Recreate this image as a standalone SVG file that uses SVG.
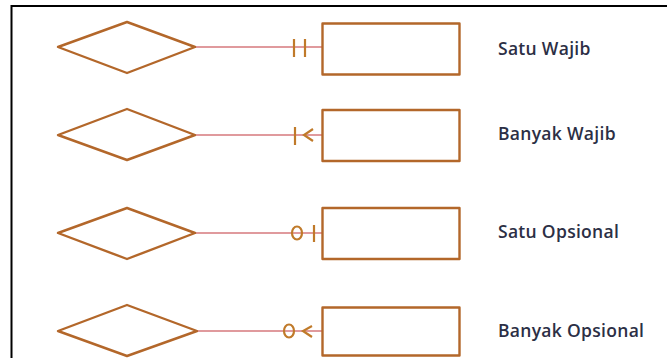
<svg xmlns="http://www.w3.org/2000/svg" width="667" height="358" viewBox="0 0 667 358">
  <style>
    .shape { fill: #ffffff; stroke: #b3672a; stroke-width: 2.4; stroke-linejoin: round; }
    .link { stroke: #d6787c; stroke-width: 1.6; fill: none; }
    .mark { stroke: #c07a2a; stroke-width: 2.2; fill: none; }
    .label { font-family: "Open Sans", "Liberation Sans", sans-serif; font-size: 17.5px; font-weight: 600; letter-spacing: 0.3px; fill: #2c2f45; }
    .frame { stroke: #000000; stroke-width: 2; fill: none; }
  </style>
  <rect width="667" height="358" fill="#ffffff"/>
  <path class="frame" d="M11.5 358 V6 H667"/>

  <g id="connectors">
    <!-- one and only one -->
    <line class="link" x1="195" y1="47" x2="322" y2="47"/>
    <line class="mark" x1="294" y1="39" x2="294" y2="57"/>
    <line class="mark" x1="305" y1="39" x2="305" y2="57"/>
    <!-- one or many -->
    <line class="link" x1="195" y1="135" x2="322" y2="135"/>
    <line class="mark" x1="295" y1="127" x2="295" y2="145"/>
    <path class="mark" d="M313 129 L304 135 L313 141"/>
    <!-- zero or one -->
    <line class="link" x1="195" y1="233" x2="322" y2="233"/>
    <ellipse class="mark" cx="297" cy="233" rx="5" ry="6.5"/>
    <line class="mark" x1="314" y1="225" x2="314" y2="242"/>
    <!-- zero or many -->
    <line class="link" x1="197" y1="331" x2="322" y2="331"/>
    <ellipse class="mark" cx="289" cy="331" rx="5" ry="6.5"/>
    <path class="mark" d="M312 326 L303 331 L312 337"/>
  </g>

  <g id="rel-satu-wajib"><polygon class="shape" points="58,47 127,22 195,47 127,73"/></g>
  <g id="ent-satu-wajib"><rect class="shape" x="322.5" y="23.5" width="137" height="51"/></g>
  <g id="lbl-satu-wajib"><text class="label" x="498" y="55">Satu Wajib</text></g>

  <g id="rel-banyak-wajib"><polygon class="shape" points="58,135 127,109 195,135 127,160"/></g>
  <g id="ent-banyak-wajib"><rect class="shape" x="322.5" y="110" width="137" height="51"/></g>
  <g id="lbl-banyak-wajib"><text class="label" x="498" y="140">Banyak Wajib</text></g>

  <g id="rel-satu-opsional"><polygon class="shape" points="58,233 127,208 195,233 127,259"/></g>
  <g id="ent-satu-opsional"><rect class="shape" x="322.5" y="208" width="137" height="51"/></g>
  <g id="lbl-satu-opsional"><text class="label" x="498" y="238">Satu Opsional</text></g>

  <g id="rel-banyak-opsional"><polygon class="shape" points="58,331 127,305 197,331 127,356"/></g>
  <g id="ent-banyak-opsional"><rect class="shape" x="322.5" y="307.5" width="137" height="48"/></g>
  <g id="lbl-banyak-opsional"><text class="label" x="498" y="337">Banyak Opsional</text></g>
</svg>
